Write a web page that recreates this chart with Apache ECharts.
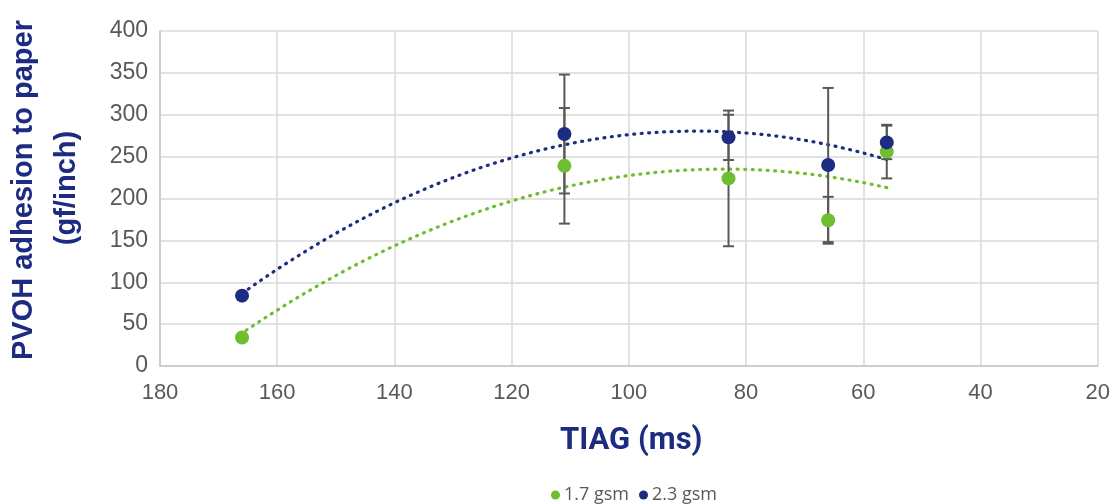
<!DOCTYPE html>
<html>
<head>
<meta charset="utf-8">
<script src="https://cdn.jsdelivr.net/npm/echarts@6/dist/echarts.min.js"></script>
<style>
html,body{margin:0;padding:0;background:#fff;}
#chart{width:1113px;height:504px;}
</style>
</head>
<body>
<div id="chart"></div>
<script>
// ---- Data ----
const tiag = [166, 111, 83, 66, 56];               // TIAG (ms)
const gsm17 = [34, 239, 224, 174, 256];             // 1.7 gsm adhesion (gf/inch)
const gsm17Err = [0, 69, 81, 28, 32];               // +/- error
const gsm23 = [84, 277, 273, 240, 267];             // 2.3 gsm adhesion (gf/inch)
const gsm23Err = [0, 71, 27, 92, 20];               // +/- error
const seriesNames = ['1.7 gsm', '2.3 gsm'];
const xTitle = 'TIAG (ms)';
const yTitle1 = 'PVOH adhesion to paper';
const yTitle2 = '(gf/inch)';

const GREEN = '#6fbe30';
const NAVY = '#1d2b80';
const TEXT = '#595959';

// Quadratic least-squares trendline (like Excel's order-2 polynomial trendline)
function polyFit2(xs, ys) {
  let n = xs.length, s = [0,0,0,0,0], t = [0,0,0];
  for (let i = 0; i < n; i++) {
    let x = xs[i], y = ys[i];
    for (let k = 0; k < 5; k++) s[k] += Math.pow(x, k);
    for (let k = 0; k < 3; k++) t[k] += y * Math.pow(x, k);
  }
  let A = [[s[0], s[1], s[2], t[0]], [s[1], s[2], s[3], t[1]], [s[2], s[3], s[4], t[2]]];
  for (let i = 0; i < 3; i++) {
    let p = A[i][i];
    for (let j = i; j < 4; j++) A[i][j] /= p;
    for (let r = 0; r < 3; r++) if (r !== i) {
      let f = A[r][i];
      for (let j = i; j < 4; j++) A[r][j] -= f * A[i][j];
    }
  }
  return [A[0][3], A[1][3], A[2][3]];
}
function trend(xs, ys) {
  const c = polyFit2(xs, ys);
  const lo = Math.min.apply(null, xs), hi = Math.max.apply(null, xs);
  const out = [];
  for (let x = lo; x <= hi + 1e-9; x += 1) out.push([x, c[0] + c[1] * x + c[2] * x * x]);
  return out;
}
function pts(ys) { return tiag.map((x, i) => [x, ys[i]]); }
function errData(ys, es) {
  const d = [];
  tiag.forEach((x, i) => { if (es[i] > 0) d.push([x, ys[i] - es[i], ys[i] + es[i]]); });
  return d;
}
function renderErr(params, api) {
  const x = api.value(0);
  const lo = api.coord([x, api.value(1)]);
  const hi = api.coord([x, api.value(2)]);
  const w = 5.5;
  const st = { stroke: '#585858', lineWidth: 2 };
  return {
    type: 'group',
    children: [
      { type: 'line', shape: { x1: lo[0], y1: lo[1], x2: hi[0], y2: hi[1] }, style: st },
      { type: 'line', shape: { x1: lo[0] - w, y1: lo[1], x2: lo[0] + w, y2: lo[1] }, style: st },
      { type: 'line', shape: { x1: hi[0] - w, y1: hi[1], x2: hi[0] + w, y2: hi[1] }, style: st }
    ]
  };
}

const chart = echarts.init(document.getElementById('chart'));
const option = {
  animation: false,
  backgroundColor: '#fff',
  grid: { left: 160, right: 15, top: 31, bottom: 138, containLabel: false },
  xAxis: {
    type: 'value', min: 20, max: 180, interval: 20, inverse: true,
    axisLine: { show: true, lineStyle: { color: '#c6c6c6', width: 1.5 } },
    axisTick: { show: false },
    axisLabel: { color: TEXT, fontSize: 22, fontFamily: 'Liberation Sans', margin: 16 },
    splitLine: { show: true, lineStyle: { color: '#d9d9d9', width: 1.5 } }
  },
  yAxis: {
    type: 'value', min: 0, max: 400, interval: 50,
    axisLine: { show: true, lineStyle: { color: '#c6c6c6', width: 1.5 } },
    axisTick: { show: false },
    axisLabel: { color: TEXT, fontSize: 23, fontFamily: 'Liberation Sans', margin: 12 },
    splitLine: { show: true, lineStyle: { color: '#d9d9d9', width: 1.5 } }
  },
  legend: {
    data: seriesNames,
    left: 546, top: 481,
    icon: 'circle', itemWidth: 9, itemHeight: 9, itemGap: 10,
    textStyle: { color: TEXT, fontSize: 18, fontFamily: 'Open Sans', padding: [0, 0, 0, -1] }
  },
  graphic: [
    { type: 'text', left: 560, top: 426,
      style: { text: xTitle, fill: NAVY, font: 'bold 31px Roboto' } },
    { type: 'text', x: 24, y: 190, rotation: Math.PI / 2,
      style: { text: yTitle1, fill: NAVY, font: 'bold 29px "Liberation Sans"', textAlign: 'center', textVerticalAlign: 'middle' } },
    { type: 'text', x: 67, y: 188, rotation: Math.PI / 2,
      style: { text: yTitle2, fill: NAVY, font: 'bold 29px "Liberation Sans"', textAlign: 'center', textVerticalAlign: 'middle' } }
  ],
  series: [
    { name: 'trend17', type: 'line', data: trend(tiag, gsm17), showSymbol: false, smooth: false,
      lineStyle: { color: GREEN, width: 3.2, type: [1, 6.5], cap: 'round' }, z: 1, silent: true },
    { name: 'trend23', type: 'line', data: trend(tiag, gsm23), showSymbol: false, smooth: false,
      lineStyle: { color: NAVY, width: 3.2, type: [1, 6.5], cap: 'round' }, z: 1, silent: true },
    { name: 'err17', type: 'custom', renderItem: renderErr, data: errData(gsm17, gsm17Err), z: 2, encode: { x: 0, y: [1, 2] } },
    { name: 'err23', type: 'custom', renderItem: renderErr, data: errData(gsm23, gsm23Err), z: 2, encode: { x: 0, y: [1, 2] } },
    { name: seriesNames[0], type: 'scatter', data: pts(gsm17), symbolSize: 14,
      itemStyle: { color: GREEN, opacity: 1 }, z: 3 },
    { name: seriesNames[1], type: 'scatter', data: pts(gsm23), symbolSize: 14,
      itemStyle: { color: NAVY, opacity: 1 }, z: 4 }
  ]
};
chart.setOption(option);
</script>
</body>
</html>
